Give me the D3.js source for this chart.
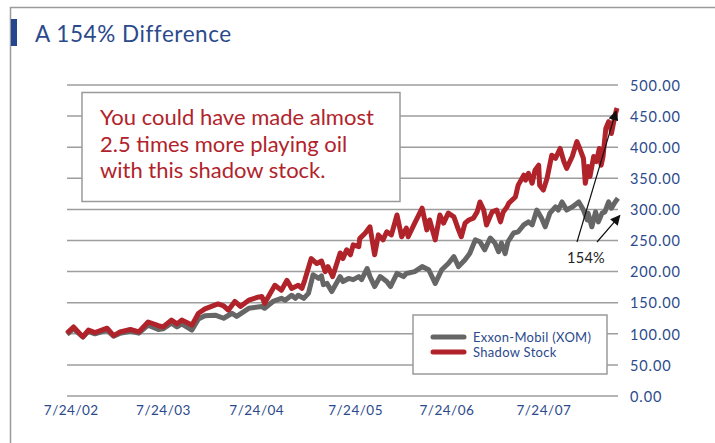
<!DOCTYPE html>
<html><head><meta charset="utf-8">
<script src="https://cdn.jsdelivr.net/npm/d3@7"></script>
<style>body{margin:0;background:#fff}svg{display:block}</style>
</head><body><svg id="c" width="715" height="443"></svg>
<script>
// ---- data (t = years since 7/24/02) ----
const xTickT = [0.04, 1.03, 2.03, 3.09, 4.07, 5.11];
const xTickLabels = ["7/24/02","7/24/03","7/24/04","7/24/05","7/24/06","7/24/07"];
const yTicks = [0,50,100,150,200,250,300,350,400,450,500];

const shadowT = [0.00,0.07,0.17,0.23,0.30,0.43,0.50,0.57,0.68,0.77,0.87,0.98,1.03,1.12,1.18,1.23,1.34,1.41,1.48,1.62,1.68,1.73,1.80,1.86,1.95,2.05,2.09,2.12,2.23,2.30,2.36,2.41,2.48,2.52,2.55,2.62,2.68,2.73,2.77,2.80,2.85,2.93,2.96,3.00,3.04,3.07,3.13,3.14,3.20,3.25,3.30,3.34,3.39,3.43,3.48,3.54,3.59,3.64,3.66,3.73,3.81,3.86,3.89,3.95,4.00,4.04,4.09,4.15,4.20,4.23,4.27,4.31,4.36,4.40,4.43,4.47,4.50,4.56,4.61,4.65,4.68,4.72,4.74,4.81,4.84,4.90,4.92,4.95,4.99,5.02,5.06,5.07,5.11,5.15,5.20,5.24,5.29,5.33,5.36,5.42,5.47,5.50,5.54,5.56,5.59,5.61,5.65,5.68,5.71,5.73,5.75,5.78,5.81,5.83,5.84,5.88,5.90];
const shadowV = [101,111,95,106,102,109,97,103,107,103,119,113,111,122,116,122,114,133,140,148,145,138,152,144,154,159,160,149,178,170,186,173,178,173,186,221,213,217,200,208,192,230,221,235,227,243,240,253,262,272,227,259,251,264,259,291,256,270,256,278,302,267,283,251,291,278,294,288,267,256,278,283,286,296,312,299,275,296,299,280,296,304,310,320,339,355,347,358,342,363,371,339,331,350,387,382,398,377,366,385,409,398,382,342,369,353,385,377,398,371,385,430,441,436,422,452,463];

const xomT = [0.00,0.07,0.17,0.23,0.30,0.43,0.50,0.57,0.68,0.77,0.87,0.98,1.03,1.12,1.18,1.23,1.34,1.41,1.48,1.59,1.68,1.77,1.82,1.95,2.09,2.12,2.21,2.30,2.34,2.41,2.45,2.48,2.54,2.59,2.64,2.70,2.73,2.75,2.79,2.84,2.93,2.96,3.02,3.07,3.13,3.16,3.22,3.25,3.30,3.36,3.43,3.47,3.54,3.61,3.64,3.73,3.81,3.88,3.95,4.02,4.09,4.15,4.20,4.27,4.32,4.38,4.43,4.48,4.54,4.59,4.63,4.66,4.70,4.73,4.79,4.84,4.90,4.95,4.99,5.04,5.09,5.13,5.18,5.24,5.27,5.31,5.36,5.42,5.49,5.54,5.58,5.59,5.63,5.67,5.70,5.74,5.77,5.81,5.84,5.88,5.91];
const xomV = [99,108,95,104,100,106,96,101,104,101,114,107,108,117,111,116,106,124,129,130,125,133,128,141,144,141,152,157,154,162,157,162,157,165,195,189,193,179,181,168,192,184,189,187,192,187,205,192,176,192,184,176,197,192,197,200,208,203,181,203,213,224,208,219,229,251,248,235,254,246,232,246,229,248,262,264,275,280,275,299,286,272,294,304,299,312,299,304,312,299,283,294,272,296,280,294,296,312,302,312,318];

// ---- layout ----
const svg = d3.select("#c");
const blue = "#2b4a8c", red = "#b1232b", gray = "#666666";
const font = "Lato, sans-serif";
const x = d3.scaleLinear().domain([0, 5.9]).range([67, 617]);
const y = d3.scaleLinear().domain([0, 500]).range([396, 85]);

// frame
svg.append("path").attr("d","M10.5,443 V7.5 H715").attr("fill","none").attr("stroke","#9a9a9a").attr("stroke-width",1.5);
svg.append("rect").attr("x",11).attr("y",19).attr("width",6).attr("height",27).attr("fill","#24468e");
svg.append("text").attr("x",35).attr("y",42).attr("fill",blue).attr("font-family",font)
  .attr("font-size",22.5).attr("letter-spacing",0.55).text("A 154% Difference");

// gridlines
svg.append("g").selectAll("line").data(yTicks).join("line")
  .attr("x1",67).attr("x2",618).attr("y1",d=>y(d)).attr("y2",d=>y(d))
  .attr("stroke","#9d9d9d").attr("stroke-width",1.5);

// y axis labels
const ya = svg.append("g").attr("transform","translate(618,0)")
  .call(d3.axisRight(y).tickValues(yTicks).tickSize(0).tickPadding(12).tickFormat(d3.format(".2f")));
ya.select(".domain").remove();
ya.selectAll("text").attr("fill",blue).attr("font-family",font).attr("font-size",14.5)
  .attr("letter-spacing",0.9).attr("dy","0.36em");

// x axis labels
const xa = svg.append("g").attr("transform","translate(0,396)")
  .call(d3.axisBottom(x).tickValues(xTickT).tickSize(0).tickPadding(9).tickFormat((d,i)=>xTickLabels[i]));
xa.select(".domain").remove();
xa.selectAll("text").attr("fill",blue).attr("font-family",font).attr("font-size",13.5).attr("letter-spacing",0.5);

// annotation box
svg.append("rect").attr("x",82).attr("y",92.5).attr("width",318).attr("height",109).attr("fill","#fff")
  .attr("stroke","#9a9a9a").attr("stroke-width",1.5);
const note = ["You could have made almost","2.5 times more playing oil","with this shadow stock."];
svg.append("g").selectAll("text").data(note).join("text")
  .attr("x",100).attr("y",(d,i)=>125+i*26.5).attr("fill",red).attr("font-family",font)
  .attr("font-size",22).text(d=>d);

// lines
const line = d3.line().x(d=>x(d[0])).y(d=>y(d[1])).curve(d3.curveLinear);
svg.append("path").datum(xomT.map((t,i)=>[t,xomV[i]])).attr("d",line).attr("fill","none")
  .attr("stroke",gray).attr("stroke-width",5).attr("stroke-linejoin","round");
svg.append("path").datum(shadowT.map((t,i)=>[t,shadowV[i]])).attr("d",line).attr("fill","none")
  .attr("stroke",red).attr("stroke-width",5).attr("stroke-linejoin","round");

// legend
svg.append("rect").attr("x",413).attr("y",315).attr("width",194).attr("height",59).attr("fill","#fff")
  .attr("stroke","#9a9a9a").attr("stroke-width",1.5);
const legend = [{name:"Exxon-Mobil (XOM)",c:gray},{name:"Shadow Stock",c:red}];
const lg = svg.append("g").selectAll("g").data(legend).join("g").attr("transform",(d,i)=>`translate(0,${337+i*15})`);
lg.append("line").attr("x1",433).attr("x2",464).attr("stroke",d=>d.c).attr("stroke-width",5).attr("stroke-linecap","round");
lg.append("text").attr("x",473).attr("dy","0.36em").attr("fill",blue).attr("font-family",font)
  .attr("font-size",13).attr("letter-spacing",0.3).text(d=>d.name);

// 154% annotation
const defs = svg.append("defs");
defs.append("marker").attr("id","ah").attr("viewBox","0 0 10 10").attr("refX",9).attr("refY",5)
  .attr("markerWidth",11).attr("markerHeight",10).attr("markerUnits","userSpaceOnUse").attr("orient","auto")
  .append("path").attr("d","M0,0 L10,5 L0,10 z").attr("fill","#111");
svg.append("line").attr("x1",577).attr("y1",242).attr("x2",x(5.89)).attr("y2",y(458)).attr("stroke","#111").attr("stroke-width",1.2).attr("marker-end","url(#ah)");
svg.append("line").attr("x1",597).attr("y1",242).attr("x2",x(5.93)).attr("y2",y(290)).attr("stroke","#111").attr("stroke-width",1.2).attr("marker-end","url(#ah)");
svg.append("text").attr("x",586).attr("y",263).attr("text-anchor","middle").attr("fill","#222")
  .attr("font-family",font).attr("font-size",14.5).attr("letter-spacing",0.3).text("154%");
</script></body></html>
